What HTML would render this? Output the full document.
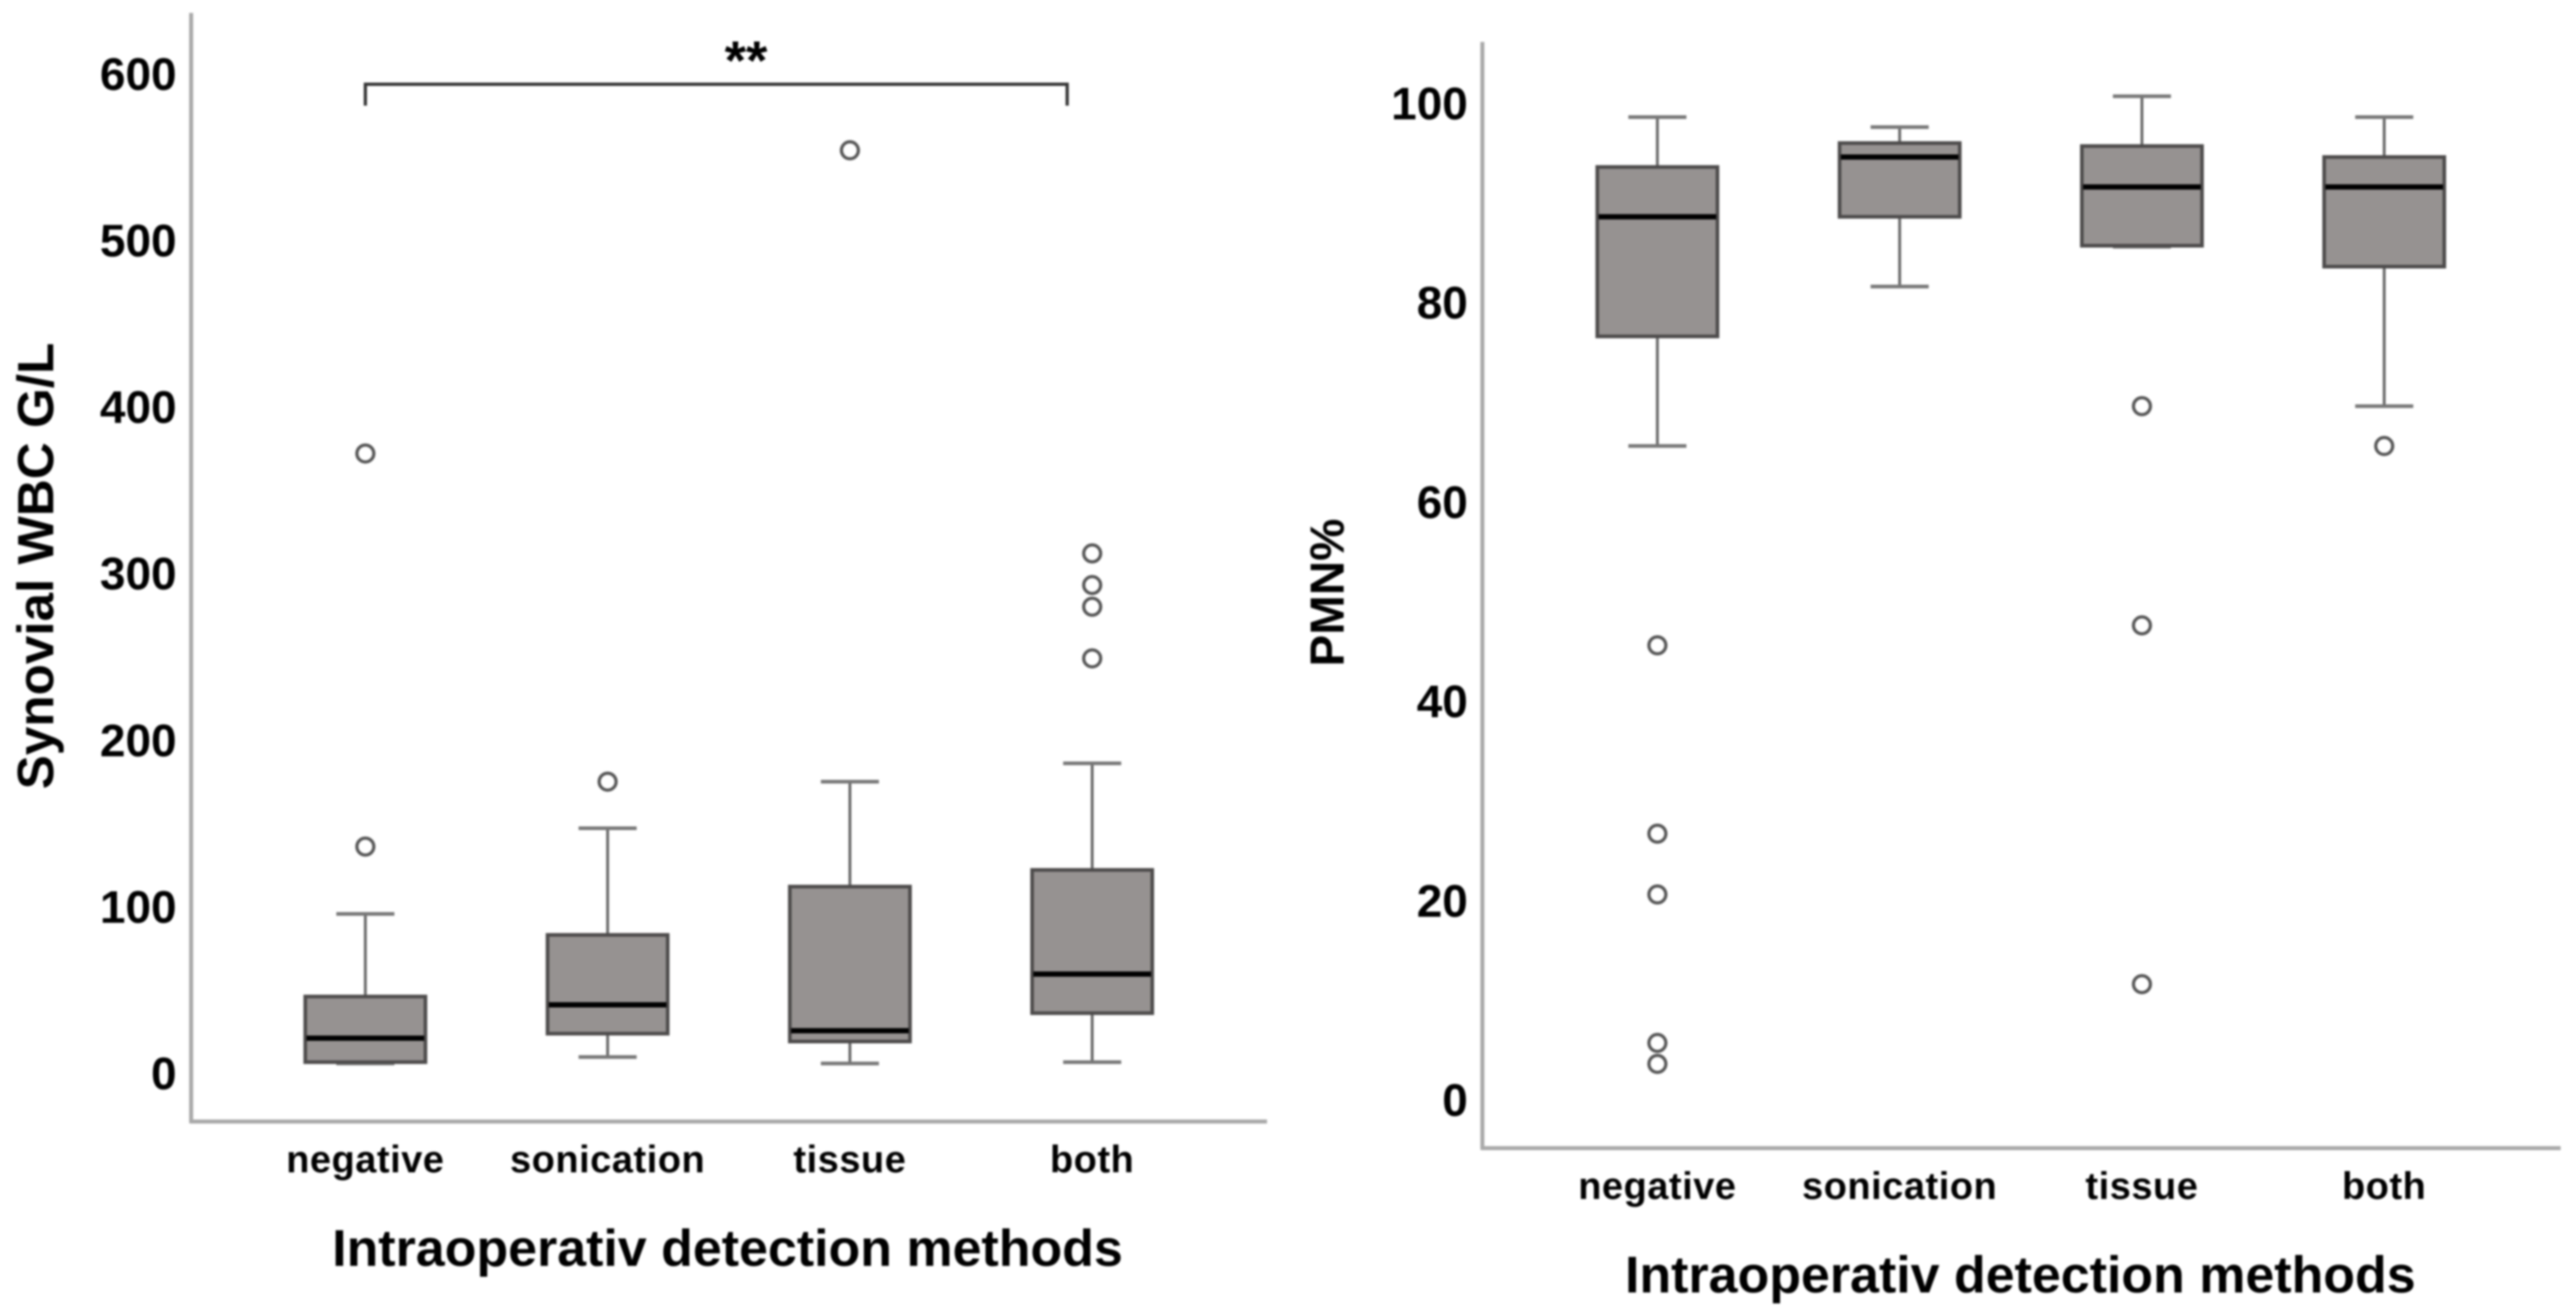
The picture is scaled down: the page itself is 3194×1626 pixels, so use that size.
<!DOCTYPE html>
<html lang="en">
<head>
<meta charset="utf-8">
<title>Synovial WBC and PMN% by intraoperative detection method</title>
<style>
html,body{margin:0;padding:0;background:#fff;width:3194px;height:1626px;overflow:hidden}
svg{display:block;filter:blur(1.4px)}
text{font-family:"Liberation Sans",sans-serif;font-weight:bold;fill:#000}
</style>
</head>
<body>
<svg id="figure" xmlns="http://www.w3.org/2000/svg" width="3194" height="1626" viewBox="0 0 3194 1626"></svg>
<script>
const categories = ['negative', 'sonication', 'tissue', 'both'];

const wbcTicks = [0, 100, 200, 300, 400, 500, 600];
const wbcHigh = [95.6, 147, 175, 186];
const wbcQ3 = [46, 83, 112, 122];
const wbcMedian = [21, 41, 25.5, 59.5];
const wbcQ1 = [6.6, 23.7, 19, 36];
const wbcLow = [5.8, 9.7, 5.8, 6.6];
const wbcOutliers = [[136, 372], [175], [554], [249, 280, 293, 312]];

const pmnTicks = [0, 20, 40, 60, 80, 100];
const pmnHigh = [98.6, 97.6, 100.7, 98.6];
const pmnQ3 = [93.6, 96, 95.7, 94.6];
const pmnMedian = [88.6, 94.6, 91.6, 91.6];
const pmnQ1 = [76.6, 88.6, 85.7, 83.6];
const pmnLow = [65.6, 81.6, 85.6, 69.6];
const pmnOutliers = [[3.6, 5.7, 20.6, 26.7, 45.6], [], [11.6, 47.6, 69.6], [65.6]];

const NS = 'http://www.w3.org/2000/svg';
const root = document.getElementById('figure');

function make(parent, tag, attrs, content) {
  const el = document.createElementNS(NS, tag);
  for (const k in attrs) el.setAttribute(k, attrs[k]);
  if (content !== undefined) el.textContent = content;
  parent.appendChild(el);
  return el;
}

function drawPanel(p) {
  const g = make(root, 'g', {});
  
  

  const yAxis = make(g, 'line', { x1: p.axisX, y1: p.axisTop, x2: p.axisX, y2: p.axisY + 2, stroke: '#aaa', 'stroke-width': 5 });
  
  

  const xAxis = make(g, 'line', { x1: p.axisX - 2, y1: p.axisY, x2: p.axisRight, y2: p.axisY, stroke: '#aaa', 'stroke-width': 5 });
  
  

  p.ticks.forEach(function (t) {
    const label = make(g, 'text', { x: p.axisX - 18, y: p.y(t) + 20, 'text-anchor': 'end', 'font-size': 57 }, String(t));
    
    
  });

  categories.forEach(function (c, i) {
    const cx = p.x(i);
    const box = make(g, 'g', {});
    
    

    const upper = make(box, 'line', { x1: cx, y1: p.y(p.high[i]), x2: cx, y2: p.y(p.q3[i]), stroke: '#666', 'stroke-width': 3.5 });
    
    

    const lower = make(box, 'line', { x1: cx, y1: p.y(p.q1[i]), x2: cx, y2: p.y(p.low[i]), stroke: '#666', 'stroke-width': 3.5 });
    
    

    const capHigh = make(box, 'line', { x1: cx - 36, y1: p.y(p.high[i]), x2: cx + 36, y2: p.y(p.high[i]), stroke: '#777', 'stroke-width': 4.5 });
    
    

    const capLow = make(box, 'line', { x1: cx - 36, y1: p.y(p.low[i]), x2: cx + 36, y2: p.y(p.low[i]), stroke: '#777', 'stroke-width': 4.5 });
    
    

    const rect = make(box, 'rect', { x: cx - 74.5, y: p.y(p.q3[i]), width: 149, height: p.y(p.q1[i]) - p.y(p.q3[i]), fill: '#969291', stroke: '#4d4b4b', 'stroke-width': 4.5 });
    
    

    const median = make(box, 'line', { x1: cx - 73, y1: p.y(p.median[i]), x2: cx + 73, y2: p.y(p.median[i]), stroke: '#000', 'stroke-width': 6.5 });
    
    

    p.outliers[i].forEach(function (v) {
      const o = make(box, 'circle', { cx: cx, cy: p.y(v), r: 10.5, fill: '#fff', stroke: '#555', 'stroke-width': 4 });
      
      
    });

    const catLabel = make(g, 'text', { x: cx, y: p.catBaseline, 'text-anchor': 'middle', 'font-size': 47, 'letter-spacing': 0.7 }, c);
    
    
  });

  const xTitle = make(g, 'text', { x: p.xTitleX, y: p.xTitleY, 'text-anchor': 'middle', 'font-size': 64.4 }, 'Intraoperativ detection methods');
  
  

  const yTitle = make(g, 'text', { transform: 'translate(' + p.yTitleX + ' ' + p.yTitleY + ') rotate(-90)', 'text-anchor': 'middle', 'font-size': p.yTitleSize }, p.yTitle);
  
  
}

function wbcY(v) { return 1331 - 2.066 * v; }
function wbcX(i) { return 453 + 300.4 * i; }
function pmnY(v) { return 1364 - 12.36 * v; }
function pmnX(i) { return 2055 + 300.4 * i; }

drawPanel({
  name: 'wbc', x: wbcX, y: wbcY, ticks: wbcTicks,
  high: wbcHigh, q3: wbcQ3, median: wbcMedian, q1: wbcQ1, low: wbcLow, outliers: wbcOutliers,
  axisX: 237, axisTop: 16, axisY: 1391, axisRight: 1571,
  catBaseline: 1454, xTitleX: 902, xTitleY: 1570,
  yTitle: 'Synovial WBC G/L', yTitleX: 66, yTitleY: 702, yTitleSize: 63.5
});

drawPanel({
  name: 'pmn', x: pmnX, y: pmnY, ticks: pmnTicks,
  high: pmnHigh, q3: pmnQ3, median: pmnMedian, q1: pmnQ1, low: pmnLow, outliers: pmnOutliers,
  axisX: 1838, axisTop: 52, axisY: 1424, axisRight: 3175,
  catBaseline: 1487, xTitleX: 2505, xTitleY: 1603,
  yTitle: 'PMN%', yTitleX: 1666, yTitleY: 735, yTitleSize: 59
});

const sig = make(root, 'g', {});


make(sig, 'path', { d: 'M' + wbcX(0) + ' 131V104.5H' + (wbcX(3) - 31) + 'V131', fill: 'none', stroke: '#333', 'stroke-width': 4 });
const stars = make(sig, 'text', { x: 925, y: 98, 'text-anchor': 'middle', 'font-size': 68 }, '**');


</script>
</body>
</html>
